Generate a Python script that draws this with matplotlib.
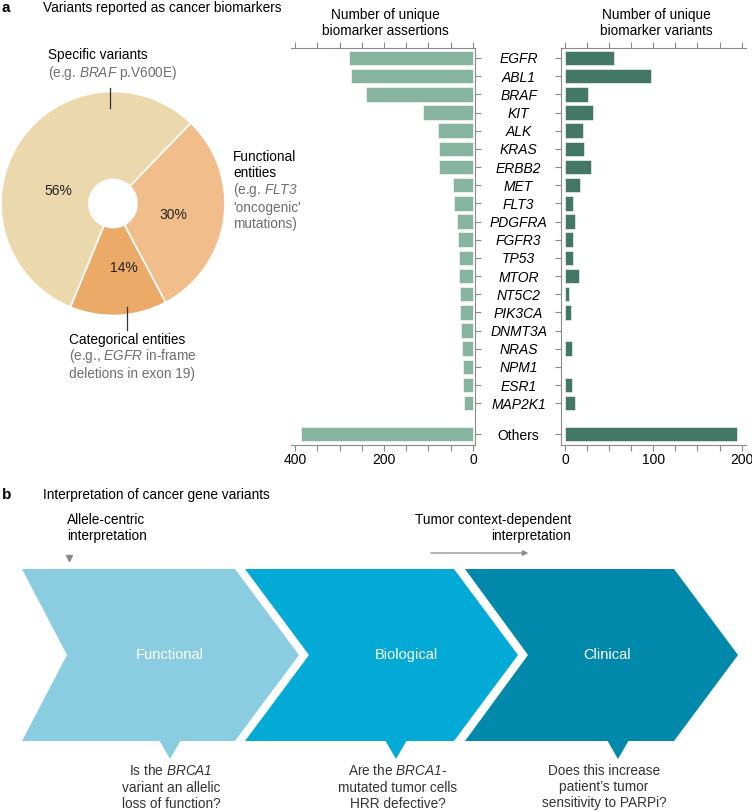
import matplotlib.pyplot as plt
from matplotlib.patches import Polygon

plt.rcParams['font.family'] = ['Liberation Sans', 'DejaVu Sans']
plt.rcParams['font.size'] = 9.8
plt.rcParams['mathtext.fontset'] = 'custom'
plt.rcParams['mathtext.it'] = 'Liberation Sans:italic'
plt.rcParams['mathtext.rm'] = 'Liberation Sans:italic'

# pie: share of biomarker variant types
pie_names = ['Functional entities', 'Categorical entities', 'Specific variants']
pie_share = [30, 14, 56]
pie_colors = ['#f1be8b', '#ebaa68', '#ecd8ad']

# bars: per gene counts
genes = ['EGFR', 'ABL1', 'BRAF', 'KIT', 'ALK', 'KRAS', 'ERBB2', 'MET', 'FLT3',
         'PDGFRA', 'FGFR3', 'TP53', 'MTOR', 'NT5C2', 'PIK3CA', 'DNMT3A',
         'NRAS', 'NPM1', 'ESR1', 'MAP2K1', 'Others']
assertions = [278, 275, 240, 112, 79, 77, 77, 46, 42, 37, 34, 32, 31, 30, 29,
              26, 25, 22, 22, 21, 387]
variants = [55, 97, 26, 32, 20, 21, 29, 17, 9, 11, 9, 9, 16, 5, 7, 0, 8, 0, 8,
            11, 195]

# panel b steps
steps = ['Functional', 'Biological', 'Clinical']
step_colors = ['#8acde0', '#02aad5', '#0189ab']
questions = ['Is the $BRCA1$\nvariant an allelic\nloss of function?',
             'Are the $BRCA1$-\nmutated tumor cells\nHRR defective?',
             'Does this increase\npatient\u2019s tumor\nsensitivity to PARPi?']

W, H = 752, 811
fig = plt.figure(figsize=(W / 100, H / 100), dpi=100)


def px_axes(x0, y0, x1, y1):
    return fig.add_axes([x0 / W, 1 - y1 / H, (x1 - x0) / W, (y1 - y0) / H])


grey = '#8a8a8a'
soft = '#6e6e6e'

# ---- pie
pax = px_axes(1, 91.5, 225, 315.5)
wedges, _, pcts = pax.pie(pie_share, colors=pie_colors, startangle=46,
                          counterclock=False, radius=1,
                          autopct=lambda p: '%d%%' % round(p),
                          pctdistance=0.56,
                          wedgeprops=dict(width=0.785, edgecolor='white', linewidth=1.2),
                          textprops=dict(fontsize=10, color='#222222'))
pcts[2].set_position((-0.49, 0.11))
pcts[1].set_position((0.1, -0.58))
pcts[0].set_position((0.54, -0.1))
pax.set_xlim(-1, 1)
pax.set_ylim(-1, 1)
pax.set_aspect('equal')

# ---- bars
pos = list(range(len(genes) - 1)) + [len(genes) - 1 + 0.7]

lax = px_axes(291, 48, 475, 445)
lax.barh(pos, assertions, height=0.8, color='#86b4a0', edgecolor='white', linewidth=0.4)
lax.set_xlim(409, -4.5)
lax.set_ylim(21.3, -0.55)
lax.set_xticks([400, 200, 0])
lax.set_xticks(range(0, 401, 50), minor=True)

rax = px_axes(561, 48, 746, 445)
rax.barh(pos, variants, height=0.8, color='#437866', edgecolor='white', linewidth=0.4)
rax.set_xlim(-4.5, 205)
rax.set_ylim(21.3, -0.55)
rax.set_xticks([0, 100, 200])
rax.set_xticks(range(0, 201, 25), minor=True)

for ax, side in ((lax, 'left'), (rax, 'right')):
    for s in ax.spines.values():
        s.set_color(grey)
        s.set_linewidth(0.8)
    ax.spines[side].set_visible(False)
    ax.tick_params(axis='x', which='both', top=True, bottom=True, labeltop=False,
                   direction='out', length=4, width=0.8, color=grey, pad=2,
                   labelsize=10)
    ax.set_yticks(pos)
    ax.tick_params(axis='y', length=4, width=0.8, color=grey)

lax.yaxis.tick_right()
lax.set_yticklabels([])
rax.set_yticklabels(genes)
rax.tick_params(axis='y', pad=26.5, labelsize=10)
for lab in rax.get_yticklabels():
    lab.set_ha('center')
    if lab.get_text() != 'Others':
        lab.set_style('italic')

# ---- overlay for annotations and panel b
bg = fig.add_axes([0, 0, 1, 1], facecolor='none')
bg.set_xlim(0, W)
bg.set_ylim(H, 0)
bg.axis('off')

bg.text(2, 8, 'a', fontsize=11, fontweight='bold', va='center')
bg.text(43, 8, 'Variants reported as cancer biomarkers', va='center')
bg.text(385, 23, 'Number of unique\nbiomarker assertions', ha='center', va='center',
        linespacing=1.25)
bg.text(656, 23, 'Number of unique\nbiomarker variants', ha='center', va='center',
        linespacing=1.25)

bg.text(48, 55, pie_names[2], va='center')
bg.text(48, 73, '(e.g. $BRAF$ p.V600E)', va='center', color=soft)
bg.plot([110, 110], [88, 108], color='#333333', lw=0.9)

bg.text(233, 165, 'Functional\nentities', va='center', linespacing=1.2)
bg.text(233, 206, "(e.g. $FLT3$\n'oncogenic'\nmutations)", va='center',
        color=soft, linespacing=1.2)

bg.plot([127, 127], [307, 330], color='#333333', lw=0.9)
bg.text(69, 340, pie_names[1], va='center')
bg.text(69, 364, '(e.g., $EGFR$ in-frame\ndeletions in exon 19)', va='center',
        color=soft, linespacing=1.2)

# panel b
bg.text(2, 495, 'b', fontsize=11, fontweight='bold', va='center')
bg.text(43, 495, 'Interpretation of cancer gene variants', va='center')
bg.text(67, 528, 'Allele-centric\ninterpretation', va='center', linespacing=1.2)
bg.plot([69], [558], marker='v', markersize=4, color=grey)
bg.text(571, 528, 'Tumor context-dependent\ninterpretation', ha='right', va='center',
        linespacing=1.2, multialignment='right')
bg.annotate('', xy=(531, 553), xytext=(428, 553),
            arrowprops=dict(arrowstyle='-|>', color=grey, lw=0.9,
                            mutation_scale=8))

top, mid, bot = 569, 655, 741
chev = [(22, 235, 45), (245, 454, 64), (465, 674, 63)]
label_x = [170, 406, 607]
point_x = [170, 396, 618]
q_x = [171, 398, 604]
for i, (L, R, notch) in enumerate(chev):
    pts = [(L, top), (R, top), (R + 64, mid), (R, bot), (L, bot), (L + notch, mid)]
    bg.add_patch(Polygon(pts, closed=True, facecolor=step_colors[i], edgecolor='none'))
    px = point_x[i]
    bg.add_patch(Polygon([(px - 11, bot - 1), (px + 11, bot - 1), (px, 759)],
                         closed=True, facecolor=step_colors[i], edgecolor='none'))
    bg.text(label_x[i], mid, steps[i], ha='center', va='center', color='white',
            fontsize=10.5)
    bg.text(q_x[i], 787, questions[i], ha='center', va='center', color='#333333',
            linespacing=1.2)

fig.savefig('out.png', dpi=100)
